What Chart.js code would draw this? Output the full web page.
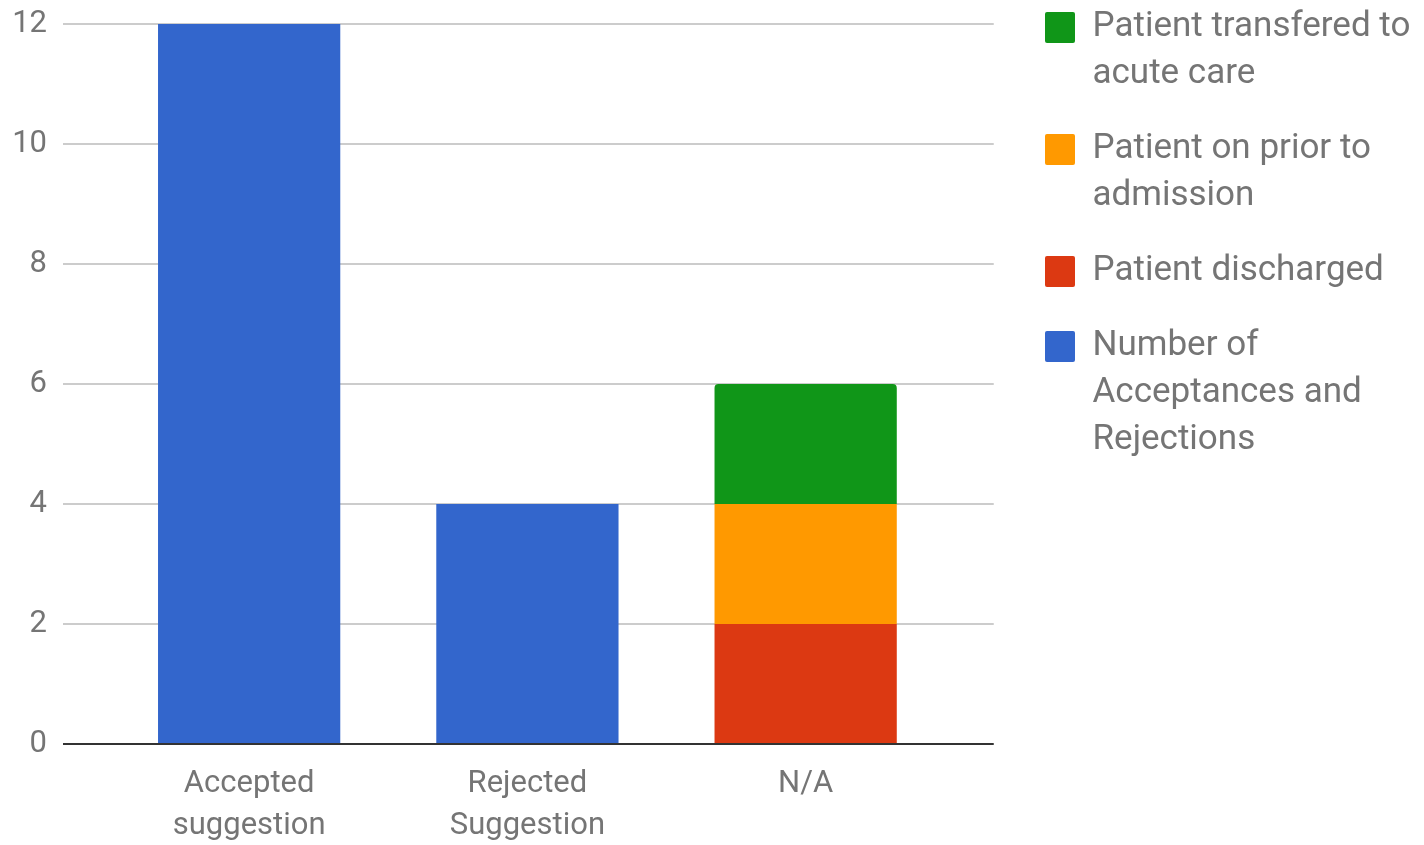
<!DOCTYPE html>
<html>
<head>
<meta charset="utf-8">
<script src="https://cdn.jsdelivr.net/npm/chart.js@4/dist/chart.umd.min.js"></script>
<style>
  html, body { margin: 0; padding: 0; background: #fff; }
  #wrap { width: 1424px; height: 845px; position: relative; }
</style>
</head>
<body>
<div id="wrap"><canvas id="c" width="1424" height="845"></canvas></div>
<script>
// ---- data ----
const categories = [["Accepted", "suggestion"], ["Rejected", "Suggestion"], ["N/A"]];
const acceptRejectValues = [12, 4, null];
const dischargedValues = [null, null, 2];
const priorAdmissionValues = [null, null, 2];
const transferredValues = [null, null, 2];
const seriesLabels = [
  "Number of Acceptances and Rejections",
  "Patient discharged",
  "Patient on prior to admission",
  "Patient transfered to acute care"
];
const legendLines = [
  ["Number of", "Acceptances and", "Rejections"],
  ["Patient discharged"],
  ["Patient on prior to", "admission"],
  ["Patient transfered to", "acute care"]
];
const yTicks = [0, 2, 4, 6, 8, 10, 12];

const colors = ["#3366cc", "#dc3912", "#ff9900", "#109618"];
const textColor = "#757575";
const FONT = "Roboto";

function toPoints(vals) { return vals.map((v, i) => ({ x: i, y: v })); }

const seriesValues = [acceptRejectValues, dischargedValues, priorAdmissionValues, transferredValues];
const datasets = seriesValues.map((vals, k) => ({
  label: seriesLabels[k],
  data: toPoints(vals),
  backgroundColor: colors[k],
  borderColor: colors[k],
  borderWidth: 0,
  borderSkipped: false,
  borderRadius: k === 3 ? { topLeft: 4, topRight: 4, bottomLeft: 0, bottomRight: 0 } : 0,
  barPercentage: 0.655,
  categoryPercentage: 1.0
}));

const LEGEND_FONT = 35;
const legendShift = {
  id: 'legendShift',
  beforeDraw(chart) {
    const lg = chart.legend;
    if (!lg) return;
    const pad = lg.options.labels.padding;
    lg.top = 10 - pad;
    lg.left = 1045 - pad;
    lg.right = chart.width;
    lg.width = lg.right - lg.left;
  }
};

new Chart(document.getElementById('c'), {
  type: 'bar',
  data: { datasets },
  plugins: [legendShift],
  options: {
    responsive: false,
    animation: false,
    layout: { padding: { top: 24, left: 0, right: 99, bottom: 0 } },
    plugins: {
      tooltip: { enabled: false },
      legend: {
        position: 'right',
        align: 'start',
        reverse: true,
        labels: {
          font: { family: FONT, size: LEGEND_FONT, lineHeight: 47 / LEGEND_FONT },
          color: textColor,
          boxWidth: 30,
          boxHeight: 31,
          padding: 28,
          useBorderRadius: true,
          borderRadius: 2,
          generateLabels(chart) {
            return chart.data.datasets.map((ds, i) => ({
              text: legendLines[i],
              fillStyle: ds.backgroundColor,
              strokeStyle: ds.backgroundColor,
              lineWidth: 0,
              hidden: false,
              datasetIndex: i,
              fontColor: textColor,
              borderRadius: 2
            }));
          }
        }
      }
    },
    scales: {
      x: {
        type: 'linear',
        stacked: true,
        min: -0.669,
        max: 2.676,
        offset: false,
        afterBuildTicks(scale) {
          scale.ticks = categories.map((c, i) => ({ value: i }));
        },
        afterFit(scale) {
          scale.height = 101;
          scale.paddingLeft = 0;
          scale.paddingRight = 0;
        },
        grid: { display: false, drawTicks: false },
        border: { display: false },
        ticks: {
          autoSkip: false,
          maxRotation: 0,
          padding: 19,
          color: textColor,
          font: { family: FONT, size: 31, lineHeight: 42 / 31 },
          callback: (v) => categories[v]
        }
      },
      y: {
        stacked: true,
        min: 0,
        max: 12,
        afterBuildTicks(scale) {
          scale.ticks = yTicks.map(v => ({ value: v }));
        },
        afterFit(scale) {
          scale.width = 63;
          scale.paddingTop = 0;
          scale.paddingBottom = 0;
        },
        grid: {
          color: (ctx) => ctx.tick && ctx.tick.value === 0 ? '#333333' : '#cccccc',
          lineWidth: 2,
          drawTicks: false
        },
        border: { display: false },
        ticks: {
          padding: 16,
          color: textColor,
          font: { family: FONT, size: 31 }
        }
      }
    }
  }
});
</script>
</body>
</html>
